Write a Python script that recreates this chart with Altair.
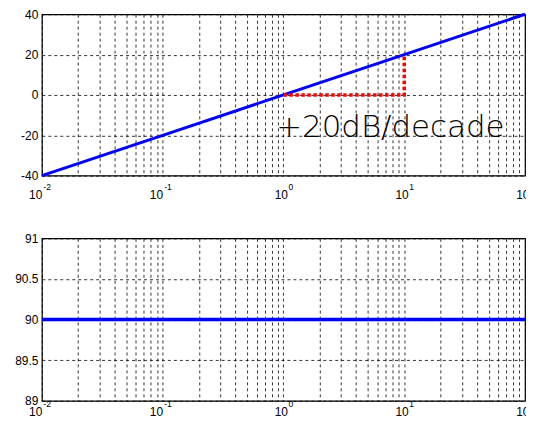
import altair as alt
import pandas as pd

# ---- data ----
freq = [0.01, 0.1, 1, 10, 100]
mag_db = [-40, -20, 0, 20, 40]
phase_deg = [90, 90, 90, 90, 90]

slope_x = [1, 10, 10]
slope_y = [0, 0, 20]
slope_order = [0, 1, 2]

annot_x = [0.87]
annot_y = [-20.7]
annot_text = ["+20dB/decade"]

grid_x = [0.01, 0.02, 0.03, 0.04, 0.05, 0.06, 0.07, 0.08, 0.09,
          0.1, 0.2, 0.3, 0.4, 0.5, 0.6, 0.7, 0.8, 0.9,
          1, 2, 3, 4, 5, 6, 7, 8, 9,
          10, 20, 30, 40, 50, 60, 70, 80, 90, 100]
mag_ticks = [-40, -20, 0, 20, 40]
phase_ticks = [89, 89.5, 90, 90.5, 91]

dec_neg = [0.01, 0.1]
exp_neg = ["-2", "-1"]
dec_pos = [1, 10, 100]
exp_pos = ["0", "1", "2"]

W = 485
H1 = 162
H2 = 163

FONT = "Liberation Sans"

xscale = alt.Scale(type="log", domain=[0.01, 100], nice=False)
xaxis = alt.Axis(values=grid_x, labels=False, ticks=False, domain=False,
                 grid=True, gridDash=[3, 3], gridColor="#000000",
                 gridWidth=0.8, gridOpacity=1, title=None)


def xenc(field="x"):
    return alt.X(f"{field}:Q", scale=xscale, axis=xaxis)


def yenc(domain, ticks, field="y"):
    return alt.Y(f"{field}:Q", scale=alt.Scale(domain=domain, nice=False, zero=False),
                 axis=alt.Axis(values=ticks, labelExpr="'' + datum.value", ticks=False,
                               domain=False, grid=True, gridDash=[3, 3],
                               gridColor="#000000", gridWidth=0.8, gridOpacity=1,
                               labelPadding=4, labelFont=FONT, labelFontSize=12,
                               labelColor="#000000", title=None))


def xlabels(h, off_base, off_exp):
    neg = pd.DataFrame({"x": dec_neg, "e": exp_neg, "b": ["10"] * len(dec_neg)})
    pos = pd.DataFrame({"x": dec_pos, "e": exp_pos, "b": ["10"] * len(dec_pos)})
    layers = []
    for df, dxb, dxe in ((neg, 0.5, 1.5), (pos, 4.5, 5.0)):
        base = alt.Chart(df).mark_text(align="right", baseline="alphabetic", dx=dxb,
                                       font=FONT, fontSize=12, color="#000000").encode(
            x=xenc(), y=alt.value(h + off_base), text="b:N")
        ex = alt.Chart(df).mark_text(align="left", baseline="alphabetic", dx=dxe,
                                     font=FONT, fontSize=8.5, color="#000000").encode(
            x=xenc(), y=alt.value(h + off_exp), text="e:N")
        layers += [base, ex]
    return layers


top_df = pd.DataFrame({"x": freq, "y": mag_db})
bot_df = pd.DataFrame({"x": freq, "y": phase_deg})
slope_df = pd.DataFrame({"x": slope_x, "y": slope_y, "o": slope_order})
annot_df = pd.DataFrame({"x": annot_x, "y": annot_y, "t": annot_text})

ytop = yenc([-40, 40], mag_ticks)
ybot = yenc([89, 91], phase_ticks)

top_line = alt.Chart(top_df).mark_line(color="#0000ff", strokeWidth=3).encode(
    x=xenc(), y=ytop)
slope = alt.Chart(slope_df).mark_line(color="#ff0000", strokeWidth=3.5,
                                      strokeDash=[3.5, 2.5]).encode(
    x=xenc(), y=ytop, order="o:Q")
annot = alt.Chart(annot_df).mark_text(align="left", baseline="alphabetic",
                                      font="DejaVu Sans", fontSize=31,
                                      fontWeight=300, color="#000000").encode(
    x=xenc(), y=ytop, text="t:N")

top = alt.layer(top_line, slope, annot, *xlabels(H1, 23, 14)).properties(
    width=W, height=H1)

bot_line = alt.Chart(bot_df).mark_line(color="#0000ff", strokeWidth=3.5).encode(
    x=xenc(), y=ybot)
bot = alt.layer(bot_line, *xlabels(H2, 15, 6)).properties(
    width=W, height=H2)

chart = alt.vconcat(top, bot, spacing=63, bounds="flush").properties(
    padding={"left": 6, "top": -1.5, "right": -10, "bottom": -2.5},
    background="#ffffff",
).configure_view(stroke="#000000", strokeWidth=1.2)

chart.save("out.html", embed_options={"renderer": "svg", "actions": False})
